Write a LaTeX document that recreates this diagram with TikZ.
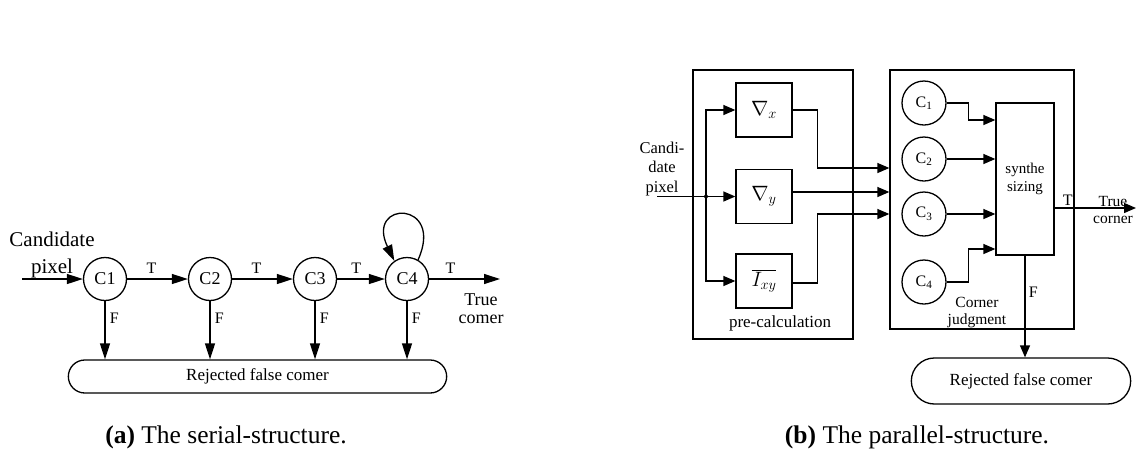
\documentclass[tikz,border=0pt]{standalone}
\usepackage{fontspec}
\setmainfont{Liberation Serif}
\usetikzlibrary{arrows.meta,shapes.misc}

\newcommand{\fsize}[2]{\fontsize{#1}{#2}\selectfont}

\tikzset{
  arrA/.style={-{Triangle[length=16pt,width=10pt]}},
  arrB/.style={-{Triangle[length=12pt,width=10pt]}},
  judgecirc/.style={circle, draw, minimum size=43pt, inner sep=0pt, font=\fsize{18}{20}},
  subcirc/.style={circle, draw, minimum size=44pt, inner sep=0pt, font=\fsize{16}{18}},
  opbox/.style={draw, minimum width=56pt, minimum height=54pt, inner sep=0pt, font=\fsize{20}{22}},
  rejbox/.style={rounded rectangle, draw, font=\fsize{17}{20}},
  tf/.style={font=\fsize{16}{18}},
  caption/.style={font=\fsize{25.5}{30}}
}

\begin{document}
\begin{tikzpicture}[x=1pt, y=-1pt, line width=1.3pt]
\useasboundingbox (0,0) rectangle (1137,448);

% (a) serial chain of judgments
\node[judgecirc] (c1) at (105,279) {C1};
\node[judgecirc] (c2) at (210,279) {C2};
\node[judgecirc] (c3) at (315,279) {C3};
\node[judgecirc] (c4) at (407,279) {C4};
\node[rejbox, minimum width=385pt, minimum height=33pt] (reja) at (257.5,376.5) {Rejected false comer};
\node[align=center, font=\fsize{21}{27}] (canda) at (52,255) {Candidate\\pixel};
\node[align=center, font=\fsize{18}{18}] (truea) at (481,309) {True\\comer};
\coordinate (ina) at (22,279);
\coordinate (outa) at (500,279);

\draw[arrA] (ina) -- (c1);
\draw[arrA] (c1) -- node[tf, above=2pt, pos=0.4] {T} (c2);
\draw[arrA] (c2) -- node[tf, above=2pt, pos=0.4] {T} (c3);
\draw[arrA] (c3) -- node[tf, above=2pt, pos=0.4] {T} (c4);
\draw[arrA] (c4) -- node[tf, above=2pt, pos=0.3] {T} (outa);
\draw[arrA] (c4.60) .. controls (445,200) and (365,200) .. (c4.125);
\foreach \c in {c1,c2,c3,c4}
  \draw[arrA] (\c.south) -- node[tf, right=1pt, pos=0.3] {F} (\c.south |- reja.north);

\node[caption] (capa) at (226,437) {\textbf{(a)} The serial-structure.};

% (b) parallel structure
\node[draw, minimum width=160pt, minimum height=269pt] (precalc) at (773,204.5) {};
\node[draw, minimum width=184pt, minimum height=259pt] (judge) at (982,199.5) {};
\node[opbox] (nx) at (764,110) {$\nabla_{x}$};
\node[opbox] (ny) at (764,196.5) {$\nabla_{y}$};
\node[opbox] (ixy) at (764,281) {$\overline{I_{xy}}$};
\node[font=\fsize{17}{20}] (prelbl) at (780,323) {pre-calculation};
\node[align=center, font=\fsize{16.5}{19.5}] (candb) at (662,169) {Candi-\\date\\pixel};
\coordinate (inb) at (657,196.5);
\coordinate (split) at (706,196.5);

\draw[arrB] (inb) -- (ny);
\draw[arrB] (split) |- (nx);
\draw[arrB] (split) |- (ixy);
\fill (split) circle (2pt);

\draw[arrB] (nx.east) -- ++(25,0) |- ([yshift=31.5pt]judge.west);
\draw[arrB] ([yshift=4.5pt]ny.east) -- ([yshift=7.5pt]judge.west);
\draw[arrB] ([yshift=-2pt]ixy.east) -- ++(25,0) |- ([yshift=-14.5pt]judge.west);

\node[subcirc] (cc1) at (924,103) {C\textsubscript{1}};
\node[subcirc] (cc2) at (924,159) {C\textsubscript{2}};
\node[subcirc] (cc3) at (924,214) {C\textsubscript{3}};
\node[subcirc] (cc4) at (924,282) {C\textsubscript{4}};
\node[draw, minimum width=58pt, minimum height=152pt, align=center, font=\fsize{15}{18}] (synth) at (1025,179) {synthe\\sizing};
\node[align=center, font=\fsize{15.5}{17}] (judgelbl) at (977,313) {Corner\\judgment};
\node[rejbox, minimum width=226pt, minimum height=46pt] (rejb) at (1021,381) {Rejected false comer};
\node[align=center, font=\fsize{15.5}{17}] (trueb) at (1113,210) {True\\corner};
\coordinate (outb) at (1136,208);

\draw[arrB] (cc1.east) -- ++(22,0) |- ([yshift=59pt]synth.west);
\draw[arrB] (cc2.east) -- (cc2.east -| synth.west);
\draw[arrB] (cc3.east) -- (cc3.east -| synth.west);
\draw[arrB] (cc4.east) -- ++(22,0) |- ([yshift=-70pt]synth.west);
\draw[arrB] ([yshift=-29pt]synth.east) -- node[tf, above, pos=0.16, inner sep=2pt] {T} (outb);
\draw[arrB] (synth.south) -- node[tf, right, pos=0.36] {F} (synth.south |- rejb.north);

\node[caption] (capb) at (917,437) {\textbf{(b)} The parallel-structure.};
\end{tikzpicture}
\end{document}
